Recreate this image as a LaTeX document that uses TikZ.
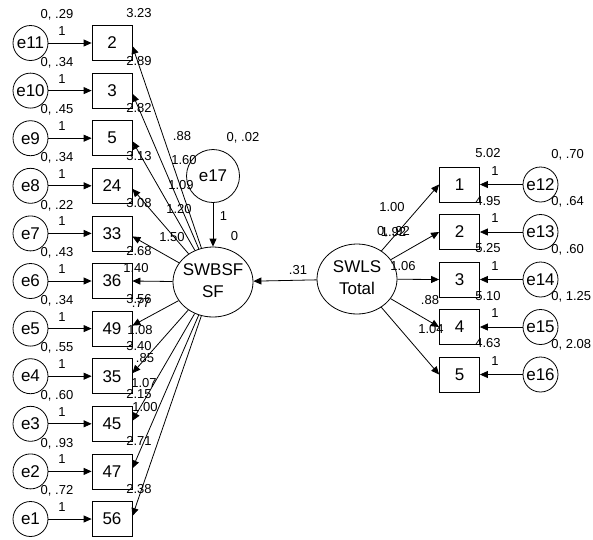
\documentclass[tikz,border=0pt]{standalone}
\usepackage{fontspec}
\setmainfont{Liberation Sans}
\usetikzlibrary{arrows.meta,positioning,shapes.geometric}

\tikzset{
  obsbox/.style={draw, minimum width=40pt, minimum height=35pt, inner sep=0pt,
    font=\fontsize{17}{20}\selectfont},
  errc/.style={draw, circle, minimum size=35pt, inner sep=0pt,
    font=\fontsize{17}{20}\selectfont},
  latent/.style={draw, ellipse, minimum width=80pt, minimum height=70pt,
    inner sep=0pt, font=\fontsize{17}{22}\selectfont},
  est/.style={inner sep=0pt, font=\fontsize{13}{15}\selectfont},
  reg/.style={->, line width=0.8pt}
}
\newcommand{\twoline}[2]{\makebox[0pt]{\begin{tabular}{@{}c@{}}#1\\#2\end{tabular}}}

\begin{document}
\begin{tikzpicture}[x=1pt, y=-1pt, >={Triangle[length=8pt,width=7pt]},
  line width=0.8pt]
  \useasboundingbox (0,0) rectangle (593,539);

  % Left: SWBSF items and their errors
  \foreach \q/\e/\v/\c [count=\i from 0] in {2/11/.29/3.23, 3/10/.34/2.89,
      5/9/.45/2.82, 24/8/.34/3.13, 33/7/.22/3.08, 36/6/.43/2.68,
      49/5/.34/3.56, 35/4/.55/3.40, 45/3/.60/2.15, 47/2/.93/2.71,
      56/1/.72/2.38} {
    \node[obsbox] (q\q) at (112, 43+47.6*\i) {\q};
    \node[errc] (e\e) at (30.5, 43+47.6*\i) {e\e};
    \draw[reg] (e\e) -- (q\q);
    \node[est] (one\e) at (62, 31+47.6*\i) {1};
    \node[est] (var\e) at (57, 15+47.6*\i) {0, \v};
    \node[est] (icp\q) at (139, 13+47.6*\i) {\c};
  }

  % Factor SWBSF
  \node[latent] (swbsf) at (213, 282) {\twoline{SWBSF}{SF}};
  \node[errc, minimum size=53pt] (e17) at (213, 176) {e17};
  \draw[reg] (e17) -- (swbsf);
  \node[est] (one17) at (223.5, 216) {1};
  \node[est] (var17) at (243, 138) {0, .02};
  \node[est] (icpsw) at (234.5, 236) {0};
  \foreach \q in {2,3,5,24,33}
    \draw[reg] (swbsf) -- ([yshift=-3pt]q\q.east);
  \draw[reg] (swbsf) -- (q36.east);
  \foreach \q in {49,35,45,47,56}
    \draw[reg] (swbsf) -- ([yshift=3pt]q\q.east);
  \foreach \lw/\px/\py [count=\k] in {.88/182/136, 1.60/184/160,
      1.09/181/185, 1.20/179/209, 1.50/172/237, 1.40/136/268, .77/141/303,
      1.08/140/330, .85/145/358, 1.07/144/383, 1.00/145/407}
    \node[est] (lds\k) at (\px, \py) {\lw};

  % Right: SWLS Total and its items
  \node[latent] (swls) at (357, 279) {\twoline{SWLS}{Total}};
  \draw[reg] (swls) -- (swbsf);
  \node[est] (path31) at (298, 270) {.31};
  \foreach \w/\e/\v/\c [count=\i from 0] in {1/12/.70/5.02, 2/13/.64/4.95,
      3/14/.60/5.25, 4/15/1.25/5.10, 5/16/2.08/4.63} {
    \node[obsbox] (w\w) at (459.5, 184.5+47.5*\i) {\w};
    \node[errc] (e\e) at (540.5, 184.5+47.5*\i) {e\e};
    \draw[reg] (e\e) -- (w\w);
    \draw[reg] (swls) -- (w\w.west);
    \node[est] (one\e) at (495, 171+47.5*\i) {1};
    \node[est, anchor=west] (var\e) at (551, 154.5+47.5*\i) {0, \v};
    \node[est] (icpw\w) at (488, 153.5+47.5*\i) {\c};
  }
  \node[est] (varsl) at (393.5, 232) {0, .92};
  \foreach \lw/\px/\py [count=\k] in {1.00/392/207, 1.92/393.5/232,
      1.06/403/266, .88/430/300, 1.04/431/329}
    \node[est] (ldw\k) at (\px, \py) {\lw};
\end{tikzpicture}
\end{document}
